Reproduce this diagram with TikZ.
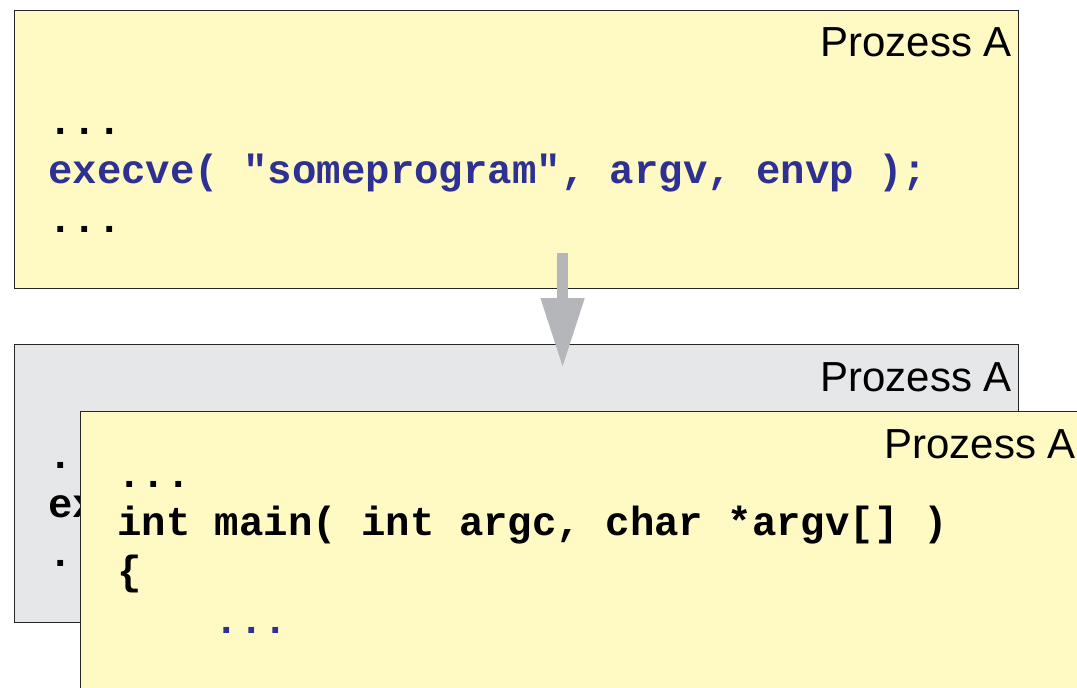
\documentclass[tikz,border=0pt]{standalone}
\usepackage{fontspec}
\setsansfont{Liberation Sans}
\setmonofont{Liberation Mono}
\usepackage{tikz}
\usetikzlibrary{arrows.meta}
\definecolor{procyellow}{RGB}{255,250,196}
\definecolor{procgrey}{RGB}{230,231,232}
\definecolor{codeblue}{RGB}{46,49,146}
\definecolor{arrowgrey}{RGB}{180,182,186}

\begin{document}
\begin{tikzpicture}[x=1pt,y=-1pt]
\tikzset{procbox/.style = {draw=black!85,line width=1.2pt,minimum width=1004pt,minimum height=278pt,anchor=north west,inner sep=0pt}}
\tikzset{proclabel/.style = {font=\sffamily\fontsize{42}{50}\selectfont,inner sep=0pt,anchor=base east}}
\tikzset{code/.style = {font=\ttfamily\bfseries\fontsize{40.7}{49}\selectfont,inner sep=0pt,anchor=base west}}
\tikzset{procarrow/.style = {draw=arrowgrey,line width=11pt,-{Triangle[width=41pt,length=70pt]}}}
\useasboundingbox (0,0) rectangle (1077,688);
\clip (0,0) rectangle (1077,688);
% process before exec
\node[procbox,fill=procyellow] (procA) at (14,10) {};
\node[proclabel] (labelA) at ([shift={(-7,46)}]procA.north east) {Prozess A};
\node[code] (dotsA) at ([shift={(34,124)}]procA.north west) {...};
\node[code,text=codeblue] (callA) at ([shift={(34,173)}]procA.north west) {execve( "someprogram", argv, envp );};
\node[code] (endA) at ([shift={(34,222)}]procA.north west) {...};
% old image
\node[procbox,fill=procgrey] (procOld) at (14,344) {};
\node[proclabel] (labelOld) at ([shift={(-7,47)}]procOld.north east) {Prozess A};
\node[code] (dotsOld) at ([shift={(34,124)}]procOld.north west) {...};
\node[code] (callOld) at ([shift={(34,173)}]procOld.north west) {execve( "someprogram", argv, envp );};
\node[code] (endOld) at ([shift={(34,222)}]procOld.north west) {...};
%arrow
\draw[procarrow] ([shift={(46,-36)}]procA.south) -- ([shift={(46,24)}]procOld.north);
% new image
\node[procbox,fill=procyellow] (procNew) at (80,411) {};
\node[proclabel] (labelNew) at ([shift={(-9,47)}]procNew.north east) {Prozess A};
\node[code] (dotsNew) at ([shift={(37,76)}]procNew.north west) {...};
\node[code] (mainNew) at ([shift={(37,124)}]procNew.north west) {int main( int argc, char *argv[] )};
\node[code] (braceNew) at ([shift={(37,173)}]procNew.north west) {\{};
\node[code,text=codeblue] (bodyNew) at ([shift={(37,222)}]procNew.north west) {\phantom{xxxx}...};
\end{tikzpicture}
\end{document}
